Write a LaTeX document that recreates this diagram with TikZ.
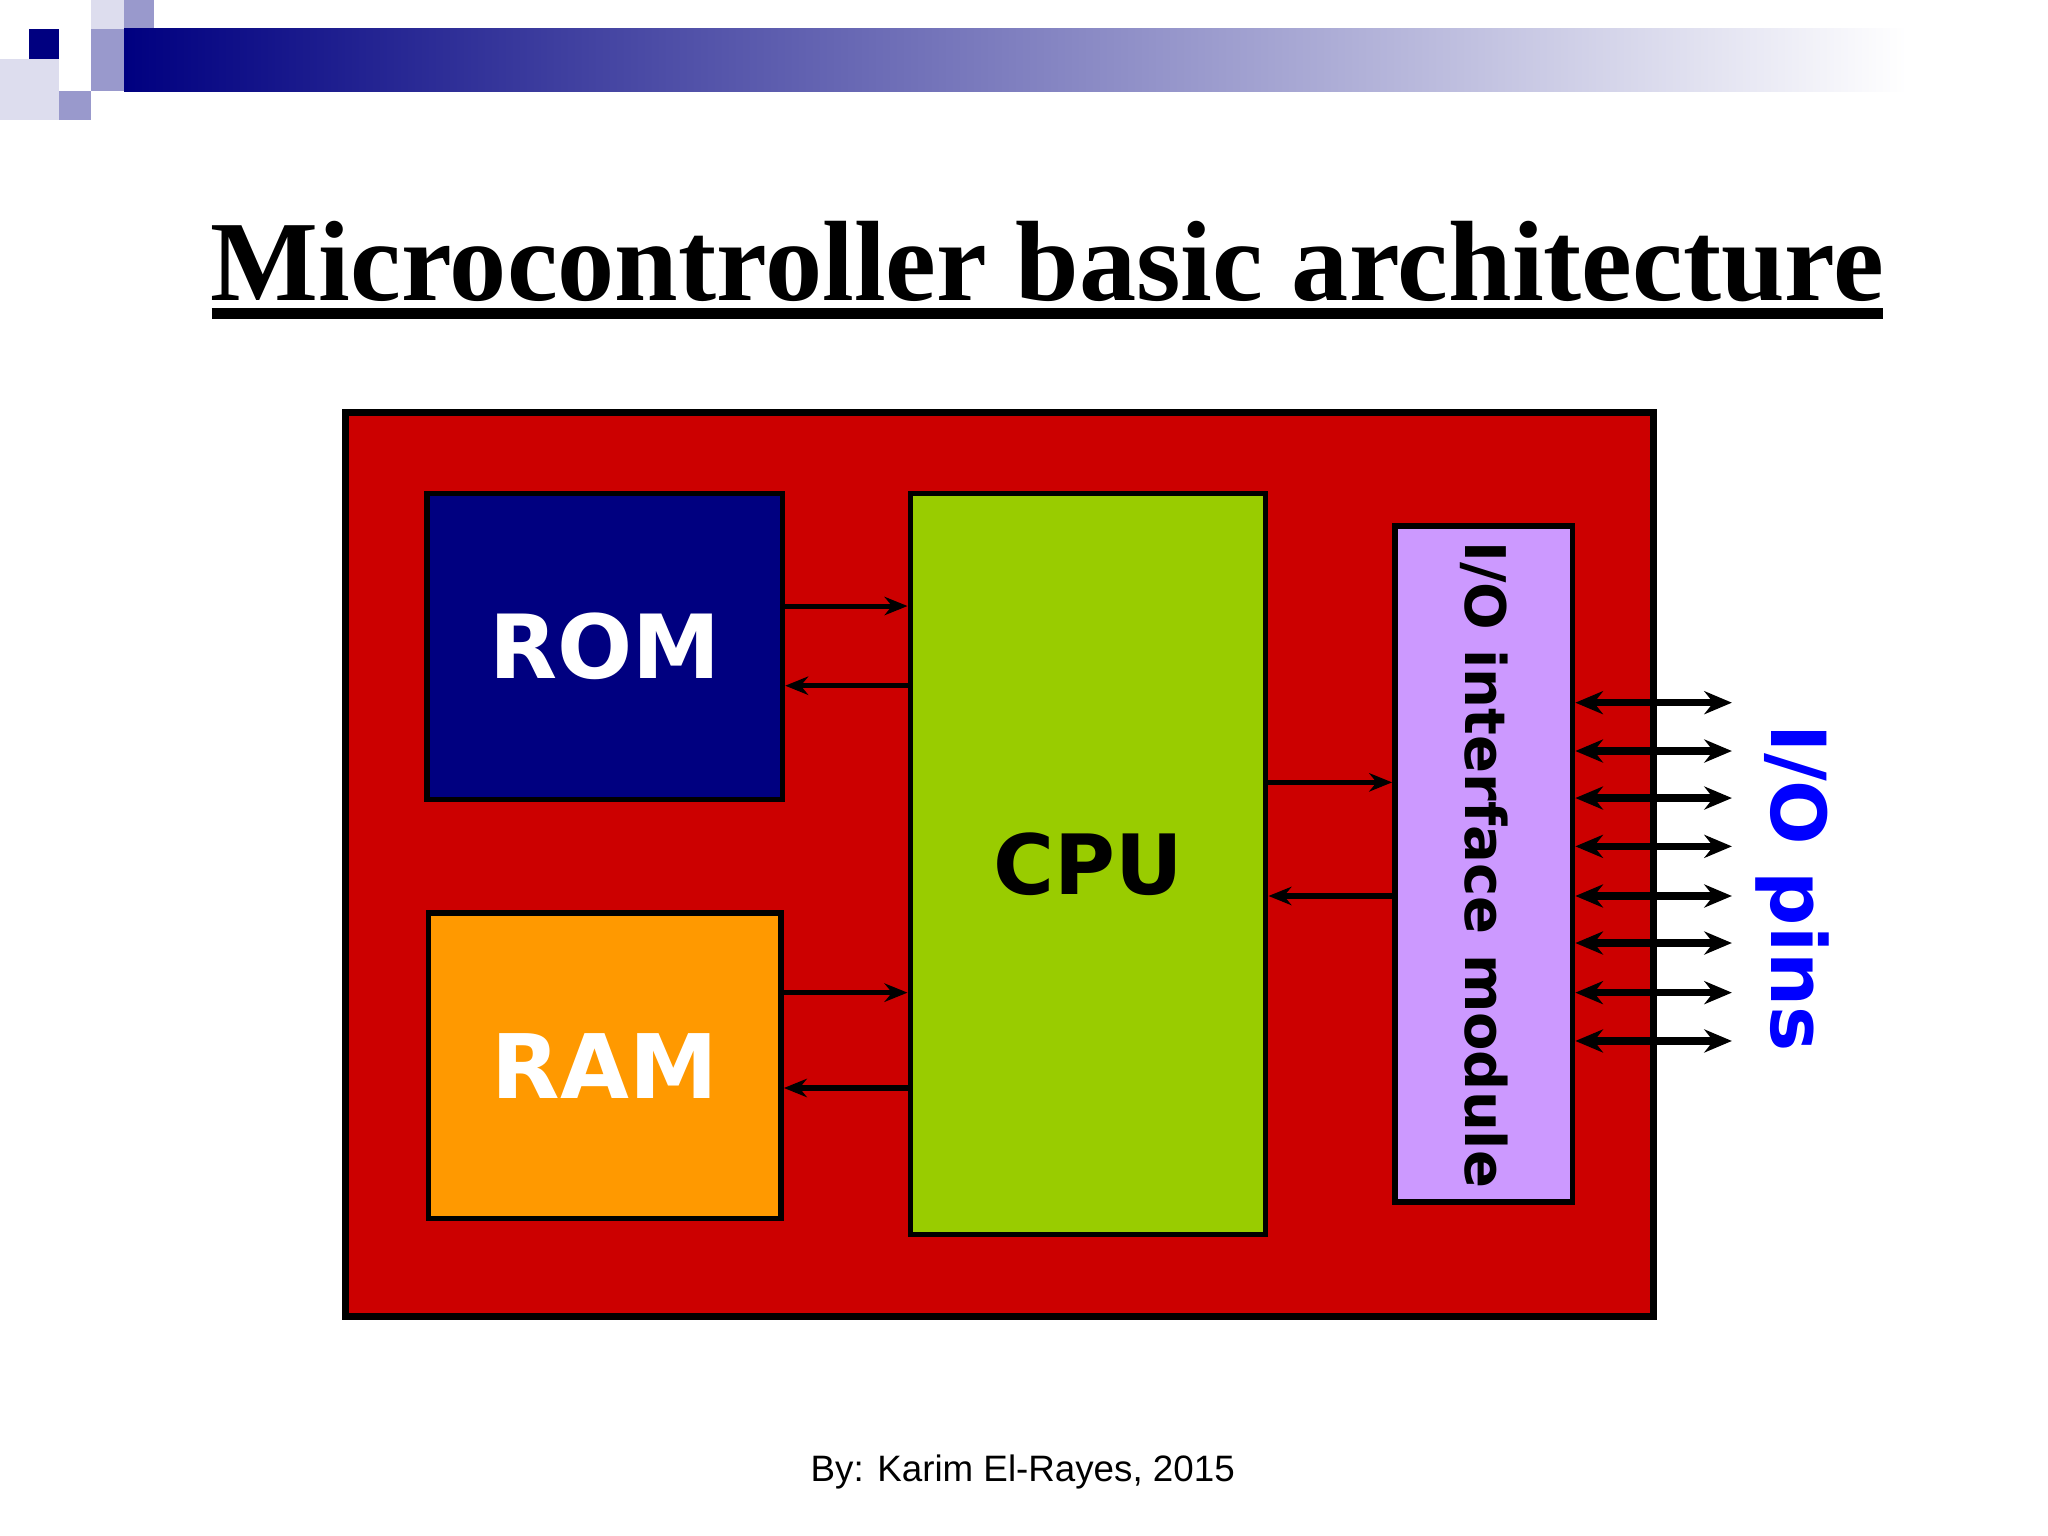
\documentclass[tikz,border=0pt]{standalone}
\usepackage{fontspec}
\setmainfont{Liberation Serif}
\newfontfamily\sansf{Liberation Sans}
\newfontfamily\boxf{DejaVu Sans}
\usetikzlibrary{arrows.meta}
\definecolor{navyb}{HTML}{000080}
\definecolor{redb}{HTML}{CC0000}
\definecolor{orangeb}{HTML}{FF9900}
\definecolor{greenb}{HTML}{99CC00}
\definecolor{lilac}{HTML}{CC99FF}
\definecolor{lav}{HTML}{9999CC}
\definecolor{lav2}{HTML}{DDDDEE}
\begin{document}
\begin{tikzpicture}[x=0.01cm,y=-0.01cm,
  blk/.style={draw=black,line width=1.2pt,inner sep=0pt},
  lab/.style={font=\boxf\bfseries},
  arr/.style={line width=1.1pt,-{Stealth[length=5pt,width=4pt]}},
  darr/.style={line width=1.6pt,{Stealth[length=6pt,width=5pt]}-{Stealth[length=6pt,width=5pt]}}]
\useasboundingbox (0,0) rectangle (1568,1176);
% header
\fill[lav2] (0,45) rectangle (45,92);
\fill[lav2] (70,0) rectangle (95,22);
\fill[lav] (95,0) rectangle (118,45);
\fill[lav] (45,70) rectangle (70,92);
\fill[lav] (70,22) rectangle (95,70);
\shade[left color=navyb,right color=white] (95,22) rectangle (1460,70);
\fill[navyb] (22,22) rectangle (45,45);
% title
\node (title) at (802,200) {\resizebox{12.8cm}{!}{\bfseries Microcontroller basic architecture}};
\draw[line width=2.5pt] (162,240) -- (1442,240);
% blocks
\node[blk,fill=redb,line width=1.5pt,minimum width=10.01cm,minimum height=6.92cm] (chip) at (765.5,662) {};
\node[blk,fill=navyb,minimum width=2.72cm,minimum height=2.34cm] (rom) at (463,495) {};
\node[lab,text=white] at (rom) {\resizebox{1.77cm}{!}{ROM}};
\node[blk,fill=orangeb,minimum width=2.70cm,minimum height=2.34cm] (ram) at (463,816) {};
\node[lab,text=white] at (ram) {\resizebox{1.73cm}{!}{RAM}};
\node[blk,fill=greenb,minimum width=2.72cm,minimum height=5.67cm] (cpu) at (833,661.5) {};
\node[lab] at (833,662) {\resizebox{1.45cm}{!}{CPU}};
\node[blk,fill=lilac,minimum width=1.36cm,minimum height=5.17cm] (io) at (1136,661.5) {};
\node[lab,rotate=-90] at (1136,662) {\resizebox{4.95cm}{!}{I/O interface module}};
% arrows
\draw[arr] (rom.east|-0,464) -- (cpu.west|-0,464);
\draw[arr] (cpu.west|-0,525) -- (rom.east|-0,525);
\draw[arr] (ram.east|-0,760) -- (cpu.west|-0,760);
\draw[arr] (cpu.west|-0,833) -- (ram.east|-0,833);
\draw[arr] (cpu.east|-0,599) -- (io.west|-0,599);
\draw[arr] (io.west|-0,686) -- (cpu.east|-0,686);
\coordinate (pe) at (1326,0);
\foreach \y in {538,575,611,648,686,722,760,797}
  \draw[darr] (io.east|-0,\y) -- (pe|-0,\y);
\node[lab,text=blue,rotate=-90] (pins) at (1372,680) {\resizebox{2.5cm}{!}{I/O pins}};
% footer
\node[font=\sansf\fontsize{8pt}{9pt}\selectfont] (foot) at (783,1127) {By: Karim El-Rayes, 2015};
\end{tikzpicture}
\end{document}
